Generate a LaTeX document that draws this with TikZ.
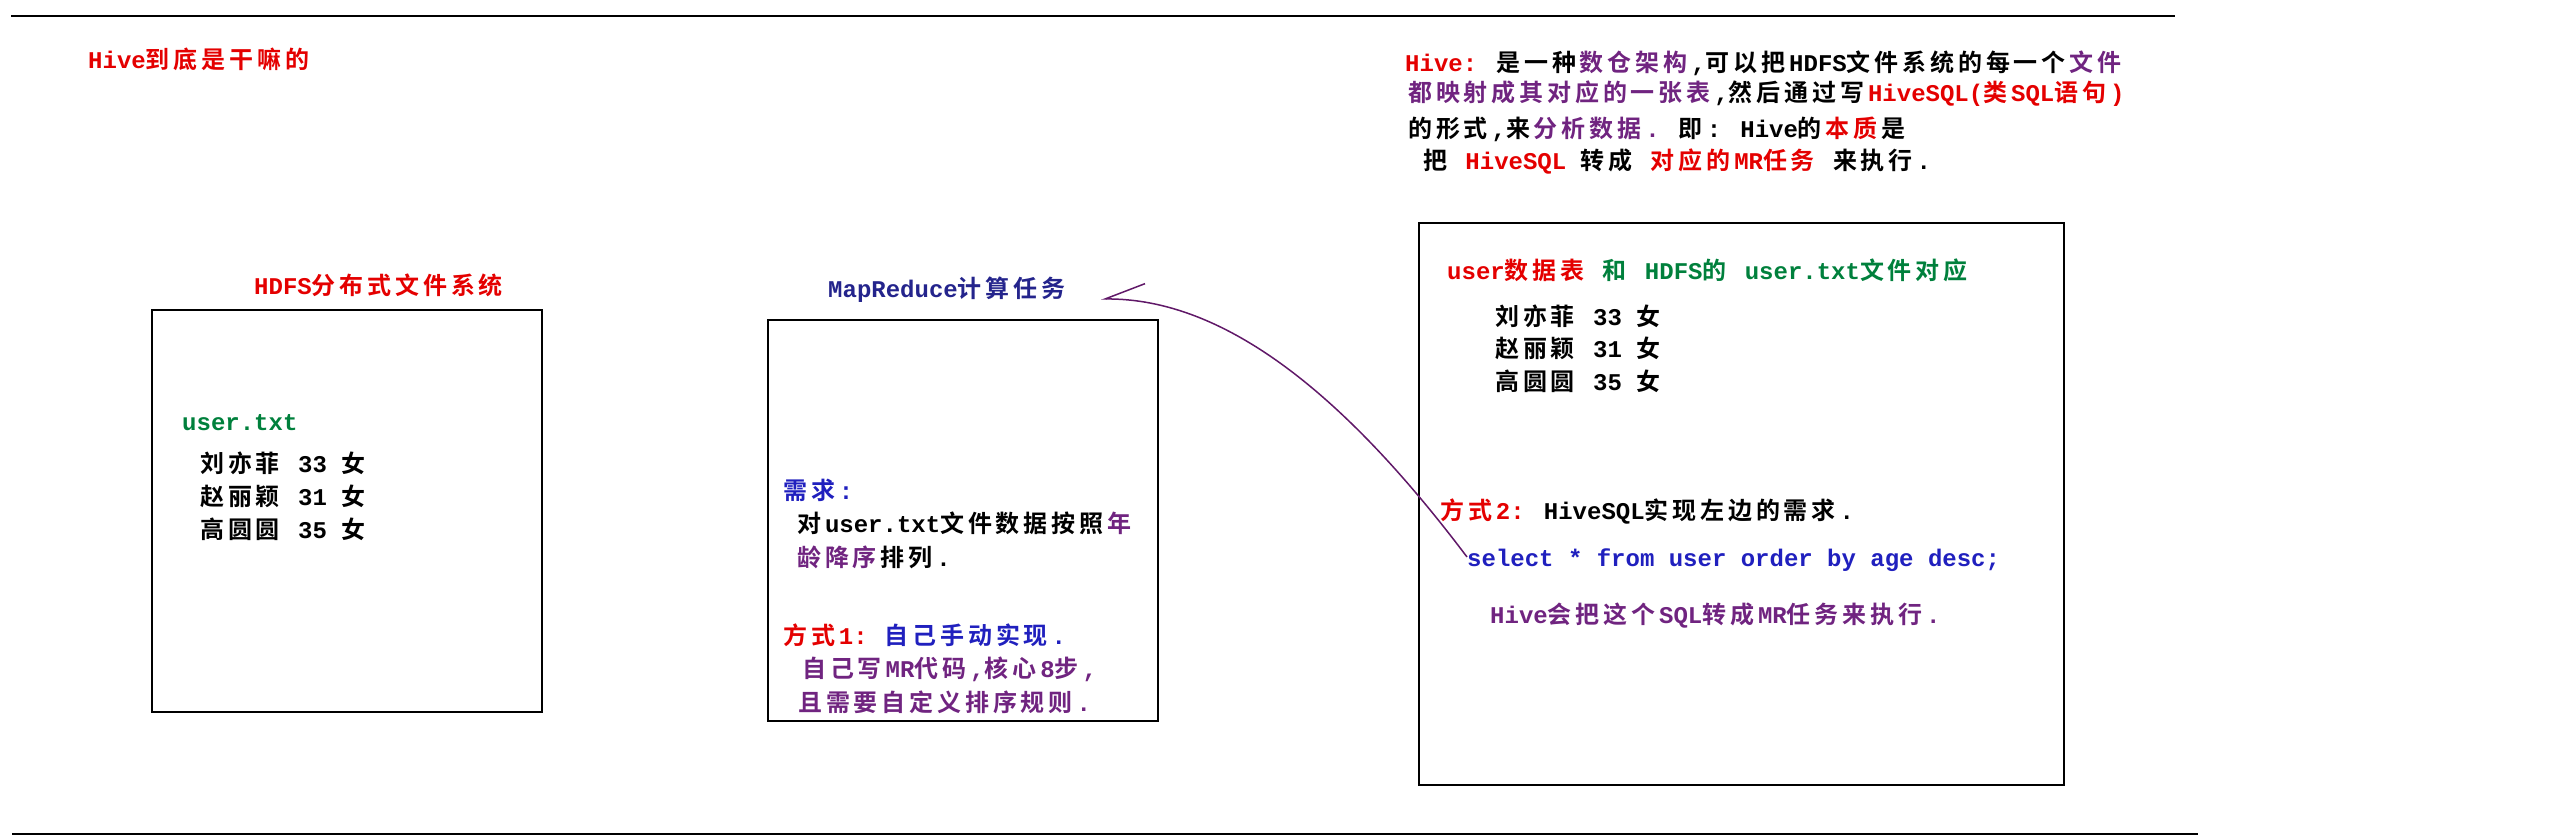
\documentclass[tikz,border=0pt]{standalone}
\usepackage{fontspec}
\setmainfont{Liberation Mono}[UprightFont={* Bold}]
\newfontfamily\cjkfont{Noto Sans CJK SC}[UprightFont={* Bold}]
\usepackage{xcolor}
\usetikzlibrary{arrows.meta,positioning}
\definecolor{hivered}{RGB}{228,0,0}
\definecolor{filegreen}{RGB}{0,128,60}
\definecolor{notepurple}{RGB}{112,36,128}
\definecolor{askblue}{RGB}{32,32,190}
\definecolor{mrnavy}{RGB}{36,36,140}
\definecolor{linkpurple}{RGB}{96,24,104}
% Han characters in Noto Sans CJK, the rest in Liberation Mono
\XeTeXinterchartokenstate=1
\newXeTeXintercharclass\hanclass
\newcount\hanidx
\hanidx="4E00
\loop
  \XeTeXcharclass\hanidx=\hanclass
  \advance\hanidx by 1
\ifnum\hanidx<"A000\relax\repeat
\XeTeXinterchartoks 0 \hanclass = {\cjkfont}
\XeTeXinterchartoks 4095 \hanclass = {\cjkfont}
\XeTeXinterchartoks \hanclass \hanclass = {\kern.16em}
\XeTeXinterchartoks \hanclass 0 = {\kern.16em\rmfamily}
\XeTeXinterchartoks \hanclass 4095 = {\kern.16em\rmfamily}

\begin{document}
\begin{tikzpicture}[x=1pt, y=-1pt, node distance=15pt,
 panel/.style={draw,line width=2pt,anchor=north west,inner sep=0pt},
 note/.style={anchor=west,inner sep=0pt,text height=18pt,text depth=0pt,font=\fontsize{24}{28}\selectfont},
 link/.style={draw=linkpurple,line width=1.5pt,-{Straight Barb[harpoon,swap,length=40pt,width=30pt]}}]
\useasboundingbox (0,0) rectangle (2560,838);
\draw[line width=2pt] (11,16) -- (2175,16);
\draw[line width=1.5pt] (12,834) -- (2198,834);
\node[note, text=hivered] (title) at (88,59) {Hive到底是干嘛的};

\node[panel, minimum width=390pt, minimum height=402pt] (hdfs) at (151,309) {};
\node[note, text=hivered] (hdfstitle) at (254,285) {HDFS分布式文件系统};
\node[note, text=filegreen] (hdfsfile) at (182,421) {user.txt};
\node[note] (hdfsrow1) at (200,463) {刘亦菲 33 女};
\node[note, below=15pt of hdfsrow1.south west, anchor=north west] (hdfsrow2) {赵丽颖 31 女};
\node[note, below=15pt of hdfsrow2.south west, anchor=north west] (hdfsrow3) {高圆圆 35 女};

\node[panel, minimum width=390pt, minimum height=401pt] (mr) at (767,319) {};
\node[note, text=mrnavy] (mrtitle) at (828,288) {MapReduce计算任务};
\node[note, text=askblue] (mrneed) at (783,490) {需求:};
\node[note] (mrneed1) at (797,523) {对user.txt文件数据按照\textcolor{notepurple}{年}};
\node[note] (mrneed2) at (797,557) {\textcolor{notepurple}{龄降序}排列.};
\node[note] (mrway) at (783,635) {\textcolor{hivered}{方式1:}\hspace{17pt}\textcolor{askblue}{自己手动实现.}};
\node[note, text=notepurple] (mrway1) at (802,668) {自己写MR代码,核心8步,};
\node[note, text=notepurple] (mrway2) at (798,702) {且需要自定义排序规则.};

\node[panel, minimum width=645pt, minimum height=562pt] (hive) at (1418,222) {};
\node[note] (hivehead) at (1447,270) {\textcolor{hivered}{user数据表} \textcolor{filegreen}{和 HDFS的 user.txt文件对应}};
\node[note] (hiverow1) at (1495,316) {刘亦菲 33 女};
\node[note, below=14.5pt of hiverow1.south west, anchor=north west] (hiverow2) {赵丽颖 31 女};
\node[note, below=14.5pt of hiverow2.south west, anchor=north west] (hiverow3) {高圆圆 35 女};
\node[note] (hiveway) at (1440,510) {\textcolor{hivered}{方式2:} HiveSQL实现左边的需求.};
\node[note, text=askblue] (sql) at (1467,557) {select * from user order by age desc;};
\node[note, text=notepurple] (hiveexec) at (1490,614) {Hive会把这个SQL转成MR任务来执行.};

\node[note] (def1) at (1405,62) {\textcolor{hivered}{Hive:} 是一种\textcolor{notepurple}{数仓架构},可以把HDFS文件系统的每一个\textcolor{notepurple}{文件}};
\node[note] (def2) at (1408,92) {\textcolor{notepurple}{都映射成其对应的一张表},然后通过写\textcolor{hivered}{HiveSQL(类SQL语句)}};
\node[note] (def3) at (1408,128) {的形式,来\textcolor{notepurple}{分析数据.} 即: Hive的\textcolor{hivered}{本质}是};
\node[note] (def4) at (1423,160) {把 \textcolor{hivered}{HiveSQL} 转成 \textcolor{hivered}{对应的MR任务} 来执行.};

\coordinate (mrtip) at (1101,299);
\draw[link] (sql.west) .. controls (1345,395) and (1225,298) .. (mrtip);
\end{tikzpicture}
\end{document}
